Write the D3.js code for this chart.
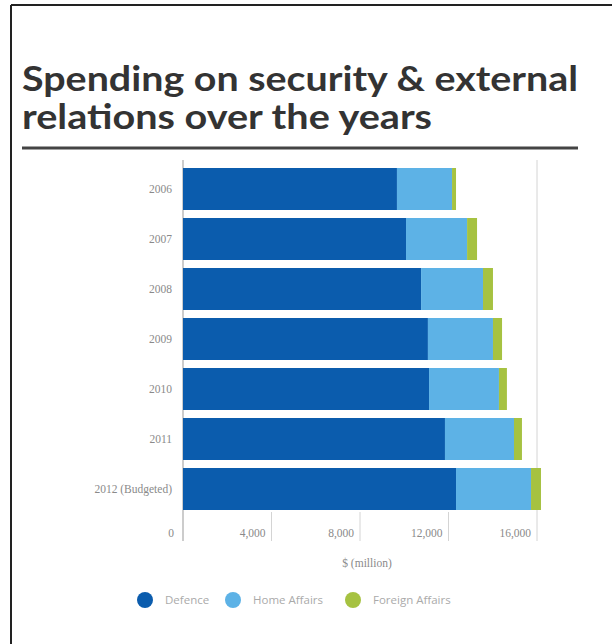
<!DOCTYPE html>
<html>
<head>
<meta charset="utf-8">
<script src="https://cdn.jsdelivr.net/npm/d3@7"></script>
<style>
  body { margin: 0; background: #fff; }
  svg { display: block; }
</style>
</head>
<body>
<div class="chart"></div>
<script>
// data ($ million)
var years = ["2006", "2007", "2008", "2009", "2010", "2011", "2012 (Budgeted)"]
var defence = [9670, 10080, 10760, 11070, 11120, 11840, 12340]
var homeAffairs = [2490, 2760, 2800, 2940, 3160, 3120, 3390]
var foreignAffairs = [180, 450, 450, 410, 360, 360, 450]
var seriesNames = ["Defence", "Home Affairs", "Foreign Affairs"]
var tickValues = [0, 4000, 8000, 12000, 16000]

var width = 612, height = 644

var svg = d3.select(".chart").append("svg")
    .attr("width", width)
    .attr("height", height)

// frame (only top and left edges are in view)
svg.append("line").attr("x1", 11).attr("x2", 11).attr("y1", 5).attr("y2", height)
    .attr("stroke", "#222").attr("stroke-width", 2)
svg.append("line").attr("x1", 11).attr("x2", width).attr("y1", 5).attr("y2", 5)
    .attr("stroke", "#222").attr("stroke-width", 2)

// title
var title = svg.append("g").attr("font-family", "Lato, 'Open Sans', sans-serif")
    .attr("font-weight", "bold").attr("fill", "#333")
title.append("text").attr("x", 22).attr("y", 91).attr("font-size", 35)
    .attr("textLength", 556).attr("lengthAdjust", "spacingAndGlyphs")
    .text("Spending on security & external")
title.append("text").attr("x", 22).attr("y", 129).attr("font-size", 35)
    .attr("textLength", 410).attr("lengthAdjust", "spacingAndGlyphs")
    .text("relations over the years")
svg.append("line").attr("x1", 22).attr("x2", 578).attr("y1", 148).attr("y2", 148)
    .attr("stroke", "#444").attr("stroke-width", 3)

// scales
var x = d3.scaleLinear().domain([0, 16000]).range([183, 537])
var y = d3.scaleBand().domain(years).range([164, 514])
    .paddingInner(0.16).paddingOuter(0.08)
var color = d3.scaleOrdinal().domain(seriesNames)
    .range(["#0b5cad", "#5db2e6", "#a6c241"])

// stacked data
var rows = years.map(function (yr, i) {
    return { year: yr, "Defence": defence[i], "Home Affairs": homeAffairs[i], "Foreign Affairs": foreignAffairs[i] }
})
var stack = d3.stack().keys(seriesNames)(rows)

// grid / ticks
var grid = svg.append("g")
tickValues.forEach(function (t) {
    var full = (t === 0 || t === 16000)
    grid.append("line")
        .attr("x1", x(t)).attr("x2", x(t))
        .attr("y1", full ? 160 : 512).attr("y2", 541)
        .attr("stroke", t === 0 ? "#999" : "#d4d4d4")
        .attr("stroke-width", 1)
})

// bars
svg.append("g").selectAll("g")
    .data(stack)
    .join("g")
    .attr("fill", d => color(d.key))
    .selectAll("rect")
    .data(d => d)
    .join("rect")
    .attr("x", d => x(d[0]))
    .attr("y", d => y(d.data.year))
    .attr("width", d => x(d[1]) - x(d[0]))
    .attr("height", y.bandwidth())

// y labels
svg.append("g").selectAll("text")
    .data(years)
    .join("text")
    .attr("x", 172)
    .attr("y", d => y(d) + y.bandwidth() / 2)
    .attr("dy", "0.35em")
    .attr("text-anchor", "end")
    .attr("font-family", "'Liberation Serif', serif")
    .attr("font-size", 11.5)
    .attr("fill", "#8a8a8a")
    .text(d => d)

// x labels
svg.append("g").selectAll("text")
    .data(tickValues)
    .join("text")
    .attr("x", d => x(d) - (d === 0 ? 9 : 6))
    .attr("y", 533)
    .attr("dy", "0.35em")
    .attr("text-anchor", "end")
    .attr("font-family", "'Liberation Serif', serif")
    .attr("font-size", 11.5)
    .attr("fill", "#8a8a8a")
    .text(d => d3.format(",")(d))

svg.append("text")
    .attr("x", 367).attr("y", 563).attr("dy", "0.35em")
    .attr("text-anchor", "middle")
    .attr("font-family", "'Liberation Serif', serif")
    .attr("font-size", 11.5)
    .attr("fill", "#8a8a8a")
    .text("$ (million)")

// legend
var legendX = [145, 233, 353]
var legend = svg.append("g").selectAll("g")
    .data(seriesNames)
    .join("g")
    .attr("transform", (d, i) => `translate(${legendX[i]},600)`)
legend.append("circle").attr("r", 8).attr("fill", d => color(d))
legend.append("text")
    .attr("x", 20).attr("dy", "0.35em")
    .attr("font-family", "'Open Sans', sans-serif")
    .attr("font-size", 11.5)
    .attr("fill", "#aaa")
    .text(d => d)
</script>
</body>
</html>
